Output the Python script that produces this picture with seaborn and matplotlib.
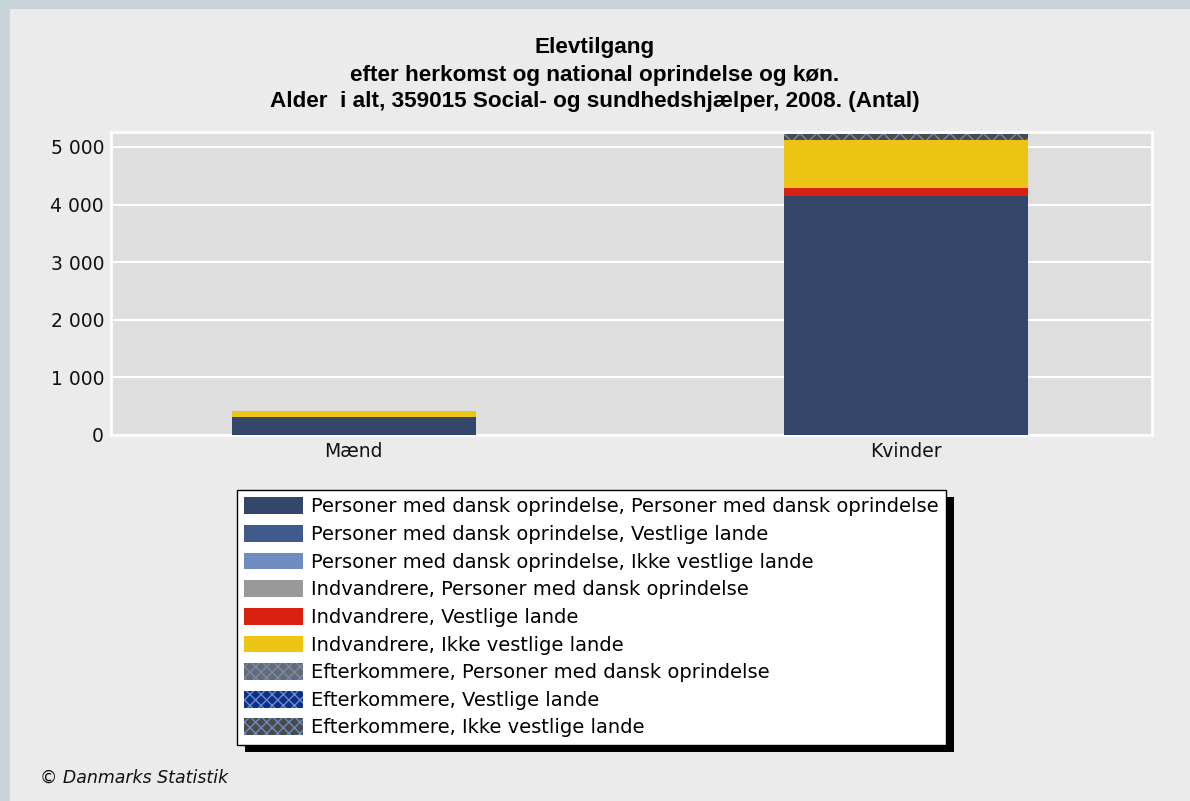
import numpy as np
import pandas as pd
import seaborn as sns
import matplotlib.pyplot as plt
from matplotlib.patches import Rectangle, Patch
from matplotlib.ticker import FuncFormatter

# data
koen = ['Mænd', 'Kvinder']
serier = ['Personer med dansk oprindelse, Personer med dansk oprindelse',
          'Personer med dansk oprindelse, Vestlige lande',
          'Personer med dansk oprindelse, Ikke vestlige lande',
          'Indvandrere, Personer med dansk oprindelse',
          'Indvandrere, Vestlige lande',
          'Indvandrere, Ikke vestlige lande',
          'Efterkommere, Personer med dansk oprindelse',
          'Efterkommere, Vestlige lande',
          'Efterkommere, Ikke vestlige lande']
maend = [315, 0, 0, 0, 0, 100, 0, 0, 0]
kvinder = [4150, 0, 0, 0, 135, 840, 0, 0, 105]

farver = ['#34466a', '#3e5a8a', '#6f8cbf', '#999999', '#d8220f', '#ecc414',
          '#6a6a6a', '#0a2f8c', '#4a4a4a']
hatch_farver = [None, None, None, None, None, None, '#6f8cbf', '#6f8cbf', '#6f8cbf']
hatches = [None, None, None, None, None, None, 'xx', 'xx', 'xx']

df = pd.DataFrame({'serie': np.repeat(serier, 2), 'koen': koen * len(serier),
                   'antal': [v for pair in zip(maend, kvinder) for v in pair]})

sns.set_style('white')
plt.rcParams['font.family'] = ['DejaVu Sans']
plt.rcParams['text.color'] = 'black'
plt.rcParams['hatch.linewidth'] = 1.0

fig = plt.figure(figsize=(11.9, 8.01), dpi=100)
fig.patch.set_facecolor('#c8d3da')
fig.add_artist(Rectangle((10 / 1190, 0), 1, 1 - 9 / 801, transform=fig.transFigure,
                         facecolor='#ebebeb', edgecolor='none', zorder=-10))

ax = fig.add_axes([111 / 1190, 1 - 435 / 801, (1152 - 111) / 1190, (435 - 132) / 801])
ax.set_facecolor('#dedede')

bund = np.zeros(2)
for i, s in enumerate(serier):
    sub = df[df['serie'] == s]
    vals = sub['antal'].to_numpy(dtype=float)
    if hatches[i]:
        sns.barplot(data=sub, x='koen', y='antal', order=koen, ax=ax, bottom=bund,
                    color=farver[i], width=0.442, saturation=1, linewidth=0,
                    edgecolor=hatch_farver[i], hatch=hatches[i], zorder=3)
    else:
        sns.barplot(data=sub, x='koen', y='antal', order=koen, ax=ax, bottom=bund,
                    color=farver[i], width=0.442, saturation=1, linewidth=0, zorder=3)
    bund = bund + vals

ax.set_xlim(-0.44, 1.446)
ax.set_ylim(0, 5260)
ax.set_yticks([0, 1000, 2000, 3000, 4000, 5000])
ax.yaxis.set_major_formatter(FuncFormatter(lambda v, p: f'{int(v):,}'.replace(',', ' ')))
ax.grid(axis='y', color='white', linewidth=1.5, zorder=0)
ax.set_axisbelow(True)
for sp in ax.spines.values():
    sp.set_color('white')
    sp.set_linewidth(2)
ax.tick_params(length=0, labelsize=13.5, colors='#111111', pad=5)
ax.set_xlabel('')
ax.set_ylabel('')

titel = ['Elevtilgang',
         'efter herkomst og national oprindelse og køn.',
         'Alder  i alt, 359015 Social- og sundhedshjælper, 2008. (Antal)']
for y, t in zip([47, 75, 102], titel):
    fig.text(0.5, 1 - y / 801, t, ha='center', va='center', color='black',
             fontsize=16.2, fontweight='bold', family='Liberation Sans')

handles = []
for i, s in enumerate(serier):
    if hatches[i]:
        handles.append(Patch(facecolor=farver[i], edgecolor=hatch_farver[i], hatch='xxx',
                             linewidth=0, label=s))
    else:
        handles.append(Patch(facecolor=farver[i], edgecolor='none', label=s))

leg = fig.legend(handles=handles, loc='upper left',
                 bbox_to_anchor=(237 / 1190, 1 - 490 / 801), frameon=True, fancybox=False,
                 edgecolor='black', facecolor='white', framealpha=1, fontsize=14,
                 handlelength=3.0, handleheight=0.95, labelspacing=0.44, handletextpad=0.45,
                 borderpad=0.38, borderaxespad=0)
leg.get_frame().set_linewidth(1)
leg.set_zorder(5)
for t in leg.get_texts():
    t.set_color('black')

fig.canvas.draw()
bb = leg.get_window_extent()
fig.add_artist(Rectangle(((bb.x0 + 8) / 1190, (bb.y0 - 7) / 801), bb.width / 1190, bb.height / 801,
                         transform=fig.transFigure, facecolor='black', edgecolor='none', zorder=4))

fig.text(40 / 1190, 1 - 778 / 801, '© Danmarks Statistik', ha='left', va='center',
         fontsize=12.5, style='italic', color='#111111')

fig.savefig('out.png', dpi=100, facecolor=fig.get_facecolor())
